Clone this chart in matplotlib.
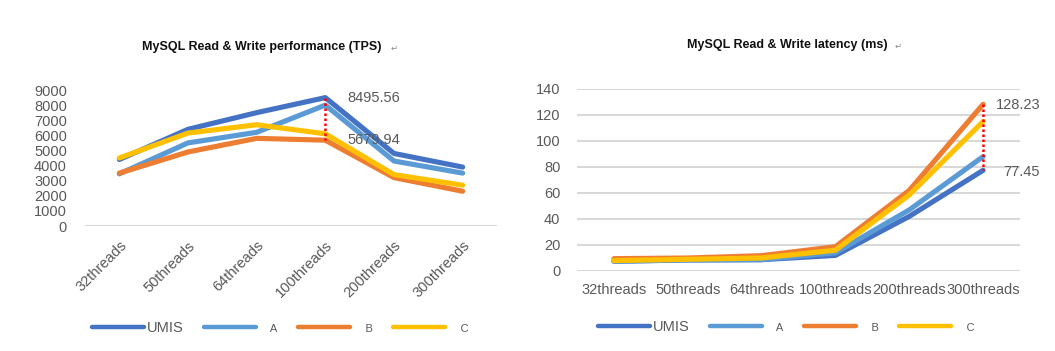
import matplotlib
matplotlib.use("Agg")
import matplotlib.pyplot as plt

plt.rcParams['font.family'] = ['Liberation Sans', 'DejaVu Sans']

categories = ["32threads", "50threads", "64threads", "100threads", "200threads", "300threads"]
series_names = ["UMIS", "A", "B", "C"]
colors = ["#4472C4", "#5B9BD5", "#ED7D31", "#FFC000"]

tps_umis = [4400, 6400, 7500, 8495.56, 4800, 3900]
tps_a = [3450, 5500, 6200, 8000, 4300, 3500]
tps_b = [3500, 4900, 5800, 5679.94, 3200, 2300]
tps_c = [4500, 6150, 6700, 6100, 3400, 2700]

lat_umis = [7.5, 8.5, 8.7, 12, 42, 77.45]
lat_a = [7.5, 8.5, 8.7, 14, 47, 88]
lat_b = [9.5, 10, 11.8, 18.7, 62, 128.23]
lat_c = [8, 9, 10, 16, 58.5, 115]

W, H = 1055, 351
fig = plt.figure(figsize=(W / 100, H / 100), dpi=100)
gray = "#595959"
grid = "#D9D9D9"

def frac(x0, y0, x1, y1):
    return [x0 / W, 1 - y1 / H, (x1 - x0) / W, (y1 - y0) / H]

ax1 = fig.add_axes(frac(85, 90, 497, 226))
ax2 = fig.add_axes(frac(577, 89, 1020, 271))

x = list(range(len(categories)))
for ax, data in ((ax1, [tps_umis, tps_a, tps_b, tps_c]), (ax2, [lat_umis, lat_a, lat_b, lat_c])):
    for name, vals, c in zip(series_names, data, colors):
        ax.plot(x, vals, color=c, lw=3.7, solid_capstyle='round', solid_joinstyle='round',
                label=name, zorder=3)
    ax.set_xlim(-0.5, len(categories) - 0.5)
    for s in ax.spines.values():
        s.set_visible(False)
    ax.tick_params(length=0, colors=gray, labelsize=10.5)
    ax.set_xticks(x)

# Left chart
ax1.set_ylim(0, 9000)
ax1.set_yticks(range(0, 9001, 1000))
ax1.tick_params(axis='y', pad=13)
ax1.axhline(0, color=grid, lw=1.5, zorder=1)
ax1.set_xticklabels(categories, rotation=45, ha='right', rotation_mode='anchor')
ax1.tick_params(axis='x', pad=9)
ax1.plot([3, 3], [tps_umis[3], tps_b[3]], color='red', ls=(0, (1, 1)), lw=1.8, zorder=4)
ax1.annotate(f"{tps_umis[3]:.2f}", (3, tps_umis[3]), xytext=(22, 0), textcoords='offset pixels',
             ha='left', va='center', color=gray, fontsize=10.5)
ax1.annotate(f"{tps_b[3]:.2f}", (3, tps_b[3]), xytext=(22, 0), textcoords='offset pixels',
             ha='left', va='center', color=gray, fontsize=10.5)

# Right chart
ax2.set_ylim(0, 140)
ax2.set_yticks(range(0, 141, 20))
ax2.tick_params(axis='y', pad=12)
ax2.grid(axis='y', color=grid, lw=1.5, zorder=1)
ax2.set_axisbelow(True)
ax2.set_xticklabels(categories)
ax2.tick_params(axis='x', pad=9)
ax2.plot([5, 5], [lat_b[5], lat_umis[5]], color='red', ls=(0, (1, 1)), lw=1.8, zorder=4)
ax2.annotate(f"{lat_b[5]:.2f}", (5, lat_b[5]), xytext=(57, -1), textcoords='offset pixels',
             ha='right', va='center', color=gray, fontsize=10.5)
ax2.annotate(f"{lat_umis[5]:.2f}", (5, lat_umis[5]), xytext=(57, -2), textcoords='offset pixels',
             ha='right', va='center', color=gray, fontsize=10.5)

# Titles
fig.text(262 / W, 1 - 47 / H, "MySQL Read & Write performance (TPS)", ha='center', va='center',
         fontsize=9, fontweight='bold', color='#111111')
fig.text(394 / W, 1 - 48 / H, "\u21b5", ha='center', va='center', fontsize=6, color='#888888',
         family='DejaVu Sans')
fig.text(787 / W, 1 - 45 / H, "MySQL Read & Write latency (ms)", ha='center', va='center',
         fontsize=9, fontweight='bold', color='#111111')
fig.text(898 / W, 1 - 46 / H, "\u21b5", ha='center', va='center', fontsize=6, color='#888888',
         family='DejaVu Sans')

# Legends
def make_legend(ax, cx, cy):
    handles = ax.get_lines()[:4]
    labels = ["UMIS", "    A", "    B", "    C"]
    leg = fig.legend(handles, labels, loc='center', bbox_to_anchor=(cx / W, 1 - cy / H),
                     ncol=4, frameon=False, handlelength=3.6, handletextpad=0.15,
                     columnspacing=1.4, fontsize=10.5)
    for line in leg.get_lines():
        line.set_linewidth(3.2)
    for i, t in enumerate(leg.get_texts()):
        t.set_color(gray)
        if i > 0:
            t.set_fontsize(8)
    return leg

make_legend(ax1, 280, 328)
make_legend(ax2, 786, 327)

fig.savefig("out.png", dpi=100)
